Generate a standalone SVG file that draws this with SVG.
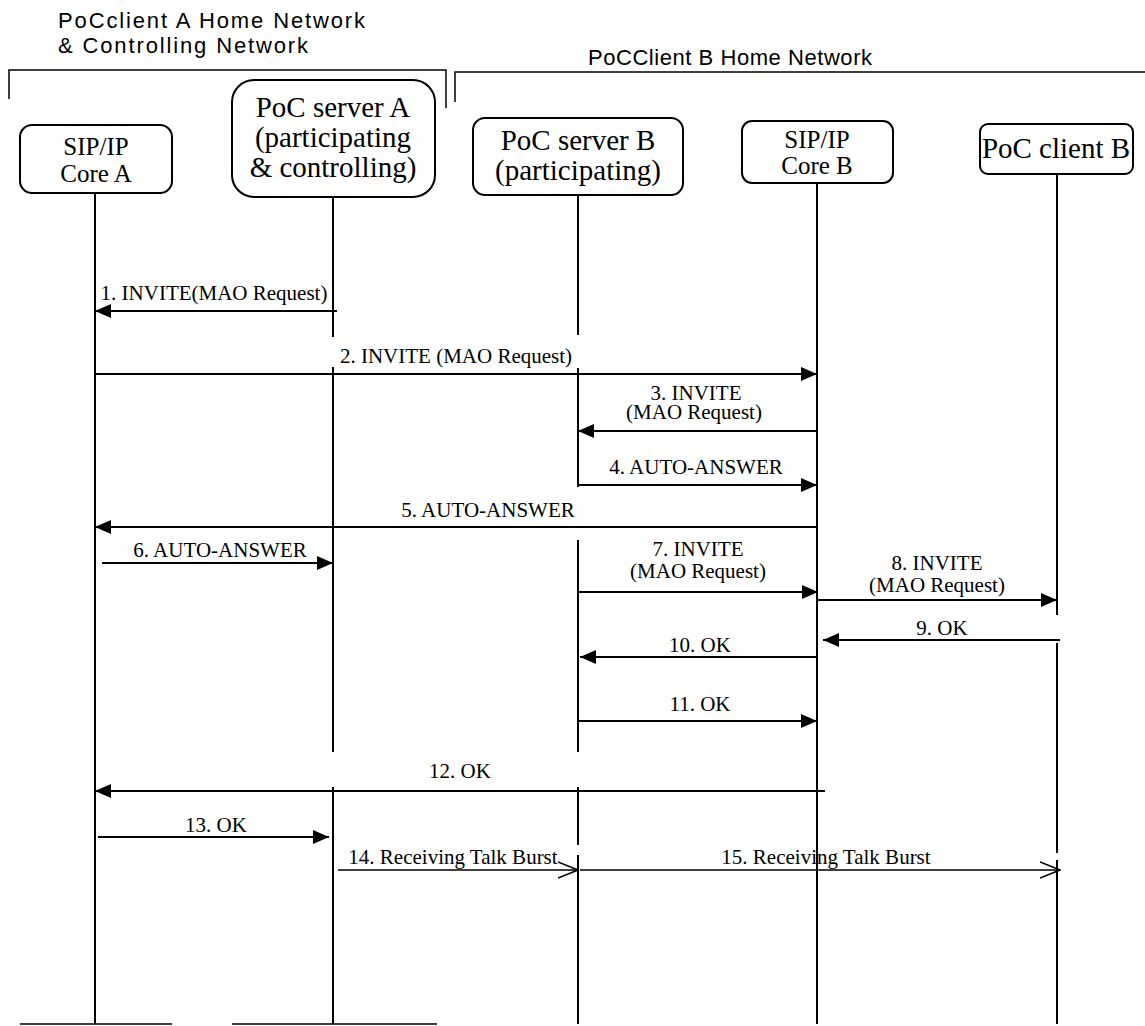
<svg xmlns="http://www.w3.org/2000/svg" width="1145" height="1026" viewBox="0 0 1145 1026">
<style>
.box{fill:#fff;stroke:#000;stroke-width:2}
.life{stroke:#000;stroke-width:2;fill:none}
.hdr{font-family:"Liberation Sans",Arial,sans-serif;font-size:22px;fill:#000}
.nt{font-family:"Liberation Serif","Times New Roman",serif;fill:#000;text-anchor:middle}
.lbl{font-family:"Liberation Serif","Times New Roman",serif;font-size:21px;fill:#000;text-anchor:middle}
.msg{stroke:#000;stroke-width:2;fill:none;marker-end:url(#fh)}
.msgo{stroke:#000;stroke-width:1.5;fill:none;marker-end:url(#oh)}
.brk{stroke:#000;stroke-width:1.5;fill:none}
</style>
<defs>
<marker id="fh" viewBox="0 0 16 14" refX="16" refY="7" markerWidth="16" markerHeight="14" markerUnits="userSpaceOnUse" orient="auto"><path d="M0,0 L16,7 L0,14 z" fill="#000"/></marker>
<marker id="oh" viewBox="0 0 21 18" refX="20" refY="9" markerWidth="21" markerHeight="18" markerUnits="userSpaceOnUse" orient="auto"><path d="M0,1 L20,9 L0,17" fill="none" stroke="#000" stroke-width="1.5"/></marker>
</defs>
<rect width="1145" height="1026" fill="#fff"/>

<g id="network-a">
<text class="hdr" x="58" y="28" textLength="307" lengthAdjust="spacing">PoCclient A Home Network</text>
<text class="hdr" x="58" y="53" textLength="250" lengthAdjust="spacing">&amp; Controlling Network</text>
<path class="brk" d="M9,99 V70 H446 V108"/>
</g>
<g id="network-b">
<text class="hdr" x="588" y="65" textLength="284" lengthAdjust="spacing">PoCClient B Home Network</text>
<path class="brk" d="M455,102 V72 H1145"/>
</g>

<g id="sip-core-a">
<rect class="box" x="20" y="125" width="152" height="68" rx="12"/>
<text class="nt" x="96" y="155" font-size="25">SIP/IP</text>
<text class="nt" x="96" y="182" font-size="25">Core A</text>
<path class="life" d="M95,193 V1024"/>
</g>
<g id="poc-server-a">
<rect class="box" x="232" y="80" width="203" height="117" rx="22"/>
<text class="nt" x="333" y="117" font-size="29">PoC server A</text>
<text class="nt" x="333" y="147" font-size="29">(participating</text>
<text class="nt" x="333" y="177" font-size="29">&amp; controlling)</text>
<path class="life" d="M333,197 V337 M333,367 V752 M333,787 V1024"/>
</g>
<g id="poc-server-b">
<rect class="box" x="473" y="118" width="210" height="77" rx="12"/>
<text class="nt" x="578" y="150" font-size="29">PoC server B</text>
<text class="nt" x="578" y="180" font-size="29">(participating)</text>
<path class="life" d="M578,195 V335 M578,368 V487 M578,540 V752 M578,787 V845 M578,855 V1024"/>
</g>
<g id="sip-core-b">
<rect class="box" x="742" y="121" width="151" height="62" rx="10"/>
<text class="nt" x="817" y="148" font-size="25">SIP/IP</text>
<text class="nt" x="817" y="174" font-size="25">Core B</text>
<path class="life" d="M817,183 V1024"/>
</g>
<g id="poc-client-b">
<rect class="box" x="980" y="124" width="153" height="50" rx="8"/>
<text class="nt" x="1056" y="158" font-size="29">PoC client B</text>
<path class="life" d="M1057,174 V615 M1057,643 V853 M1057,860 V1024"/>
</g>

<g id="bottom-lines">
<path class="brk" d="M20,1024 H172 M232,1024 H437"/>
</g>

<g id="connectors">
<g id="m1"><path class="msg" d="M337,311 H95"/><text class="lbl" x="214" y="300">1. INVITE(MAO Request)</text></g>
<g id="m2"><path class="msg" d="M95,374 H817"/><text class="lbl" x="456" y="363">2. INVITE (MAO Request)</text></g>
<g id="m3"><path class="msg" d="M817,431 H578"/><text class="lbl" x="696" y="400">3. INVITE</text><text class="lbl" x="694" y="419">(MAO Request)</text></g>
<g id="m4"><path class="msg" d="M577,485 H817"/><text class="lbl" x="696" y="474">4. AUTO-ANSWER</text></g>
<g id="m5"><path class="msg" d="M817,527 H95"/><text class="lbl" x="488" y="517">5. AUTO-ANSWER</text></g>
<g id="m6"><path class="msg" d="M102,563 H333"/><text class="lbl" x="220" y="557">6. AUTO-ANSWER</text></g>
<g id="m7"><path class="msg" d="M578,592 H818"/><text class="lbl" x="698" y="556">7. INVITE</text><text class="lbl" x="698" y="578">(MAO Request)</text></g>
<g id="m8"><path class="msg" d="M817,600 H1057"/><text class="lbl" x="937" y="570">8. INVITE</text><text class="lbl" x="937" y="592">(MAO Request)</text></g>
<g id="m9"><path class="msg" d="M1060,640 H823"/><text class="lbl" x="942" y="635">9. OK</text></g>
<g id="m10"><path class="msg" d="M817,657 H580"/><text class="lbl" x="700" y="652">10. OK</text></g>
<g id="m11"><path class="msg" d="M578,721 H817"/><text class="lbl" x="700" y="711">11. OK</text></g>
<g id="m12"><path class="msg" d="M825,791 H95"/><text class="lbl" x="460" y="778">12. OK</text></g>
<g id="m13"><path class="msg" d="M98,837 H329"/><text class="lbl" x="216" y="832">13. OK</text></g>
<g id="m14"><path class="msgo" d="M338,870 H578"/><text class="lbl" x="453" y="864">14. Receiving Talk Burst</text></g>
<g id="m15"><path class="msgo" d="M580,870 H1060"/><text class="lbl" x="826" y="864">15. Receiving Talk Burst</text></g>
</g>
</svg>
